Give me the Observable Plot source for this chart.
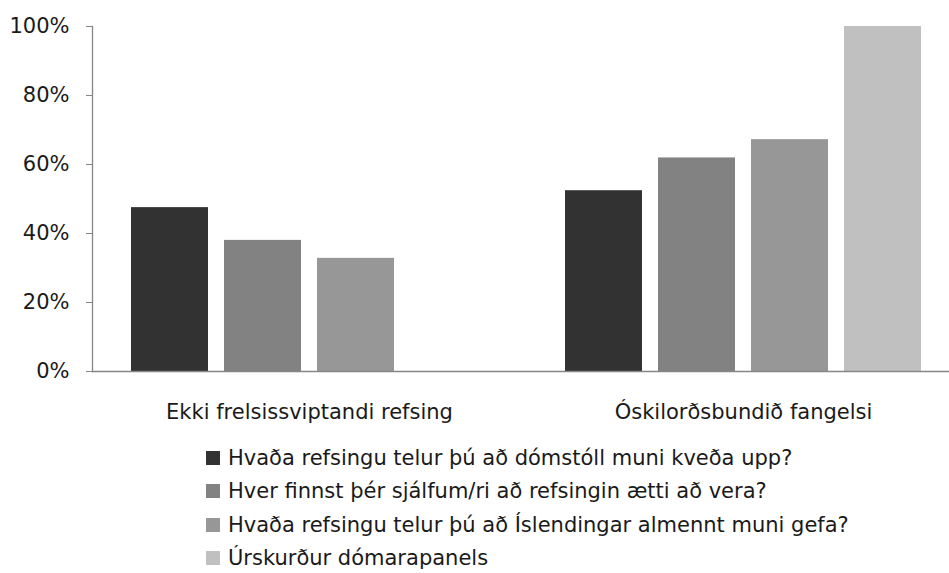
<!DOCTYPE html>
<html>
<head>
<meta charset="utf-8">
<script src="https://cdn.jsdelivr.net/npm/d3@7"></script>
<script src="https://cdn.jsdelivr.net/npm/@observablehq/plot@0.6"></script>
<style>
  html, body { margin: 0; padding: 0; background: #fff; }
  body { width: 949px; height: 573px; overflow: hidden; font-family: "DejaVu Sans", sans-serif; }
  #legend { position: absolute; left: 206px; top: 441px; font-size: 21px; line-height: 1.15; color: #1a1a1a; }
  .row { display: flex; align-items: center; height: 33.5px; }
  .sw { width: 14px; height: 14px; margin-right: 8px; flex: none; }
</style>
</head>
<body>
<div id="chart"></div>
<div id="legend"></div>
<script>
const categories = ["Ekki frelsissviptandi refsing", "Óskilorðsbundið fangelsi"];
const series = [
  "Hvaða refsingu telur þú að dómstóll muni kveða upp?",
  "Hver finnst þér sjálfum/ri að refsingin ætti að vera?",
  "Hvaða refsingu telur þú að Íslendingar almennt muni gefa?",
  "Úrskurður dómarapanels"
];
const colors = ["#323232", "#828282", "#979797", "#c0c0c0"];
const valuesEkki = [0.475, 0.38, 0.328, null];
const valuesOskil = [0.524, 0.619, 0.672, 1.0];
const yTicks = [0, 0.2, 0.4, 0.6, 0.8, 1.0];

const data = [];
[valuesEkki, valuesOskil].forEach((vals, ci) => {
  vals.forEach((v, si) => {
    if (v != null) data.push({category: categories[ci], series: series[si], value: v});
  });
});

const FONT = '"DejaVu Sans", sans-serif';

const chart = Plot.plot({
  width: 949,
  height: 430,
  marginTop: 26,
  marginBottom: 59,
  marginLeft: 92,
  marginRight: -11,
  style: {fontFamily: FONT, fontSize: "21px", color: "#1a1a1a", background: "#fff"},
  fx: {domain: categories, padding: 0, label: null},
  x: {domain: series, paddingInner: 0.174, paddingOuter: 0.415, axis: null},
  y: {domain: [0, 1], label: null},
  color: {domain: series, range: colors},
  marks: [
    Plot.barY(data, {fx: "category", x: "series", y: "value", fill: "series"}),
    Plot.ruleY([0], {stroke: "#868686", strokeWidth: 1.3}),
    Plot.frame({anchor: "left", facetAnchor: "left", stroke: "#868686", strokeWidth: 1.3}),
    Plot.axisY({ticks: yTicks, tickFormat: d3.format(".0%"), tickSize: 6, tickPadding: 17, stroke: "#868686", fill: "#1a1a1a", label: null, fontSize: 21}),
    Plot.axisFx({anchor: "bottom", tickSize: 0, tickPadding: 33, label: null, fontSize: 21, fill: "#1a1a1a"})
  ]
});
document.getElementById("chart").appendChild(chart);

const legend = document.getElementById("legend");
series.forEach((s, i) => {
  const row = document.createElement("div");
  row.className = "row";
  const sw = document.createElement("span");
  sw.className = "sw";
  sw.style.background = colors[i];
  const t = document.createElement("span");
  t.textContent = s;
  row.appendChild(sw);
  row.appendChild(t);
  legend.appendChild(row);
});
</script>
</body>
</html>
